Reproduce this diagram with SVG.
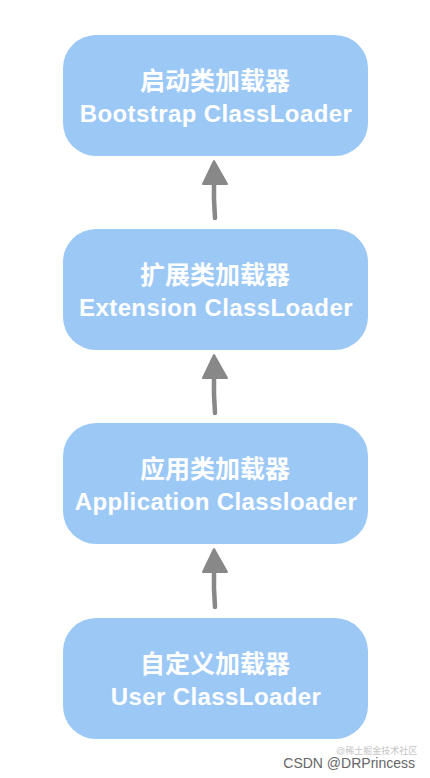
<svg xmlns="http://www.w3.org/2000/svg" width="430" height="778" viewBox="0 0 430 778">
<style>
.box{fill:#9cc8f6;}
.t{font-family:"Liberation Sans","Noto Sans CJK SC",Arial,sans-serif;font-weight:bold;fill:#ffffff;text-anchor:middle;}
.zh{font-size:25px;}
.en{font-size:24px;letter-spacing:0.4px;}
.shaft{stroke:#888888;stroke-width:4.5;stroke-linecap:round;fill:none;}
.head{fill:#888888;stroke:#888888;stroke-width:2;stroke-linejoin:round;}
.wm{font-family:"Liberation Sans","Noto Sans CJK SC",sans-serif;}
</style>
<rect width="430" height="778" fill="#ffffff"/>
<g id="connectors">
  <path class="shaft" d="M215,218 Q213.5,200 214,180"/>
  <polygon class="head" points="214,161 203,184 227,184"/>
  <path class="shaft" d="M215,413 Q213.5,395 214,375"/>
  <polygon class="head" points="214,355 203,378 227,378"/>
  <path class="shaft" d="M215,607 Q213.5,589 214,569"/>
  <polygon class="head" points="214,549 203,572 227,572"/>
</g>
<g id="bootstrap">
  <rect class="box" x="63" y="35" width="305" height="121" rx="33"/>
  <text class="t zh" x="215" y="90">启动类加载器</text>
  <text class="t en" x="216" y="122">Bootstrap ClassLoader</text>
</g>
<g id="extension">
  <rect class="box" x="63" y="229" width="305" height="121" rx="33"/>
  <text class="t zh" x="215" y="284">扩展类加载器</text>
  <text class="t en" x="216" y="316">Extension ClassLoader</text>
</g>
<g id="application">
  <rect class="box" x="63" y="423" width="305" height="121" rx="33"/>
  <text class="t zh" x="215" y="478">应用类加载器</text>
  <text class="t en" x="216" y="510">Application Classloader</text>
</g>
<g id="user">
  <rect class="box" x="63" y="618" width="305" height="121" rx="33"/>
  <text class="t zh" x="215" y="673">自定义加载器</text>
  <text class="t en" x="216" y="705">User ClassLoader</text>
</g>
<g id="watermark">
  <text class="wm" x="336" y="754" font-size="9" fill="#c4c4c4">@稀土掘金技术社区</text>
  <text class="wm" x="415" y="768" font-size="14" fill="#666666" text-anchor="end">CSDN @DRPrincess</text>
</g>
</svg>
